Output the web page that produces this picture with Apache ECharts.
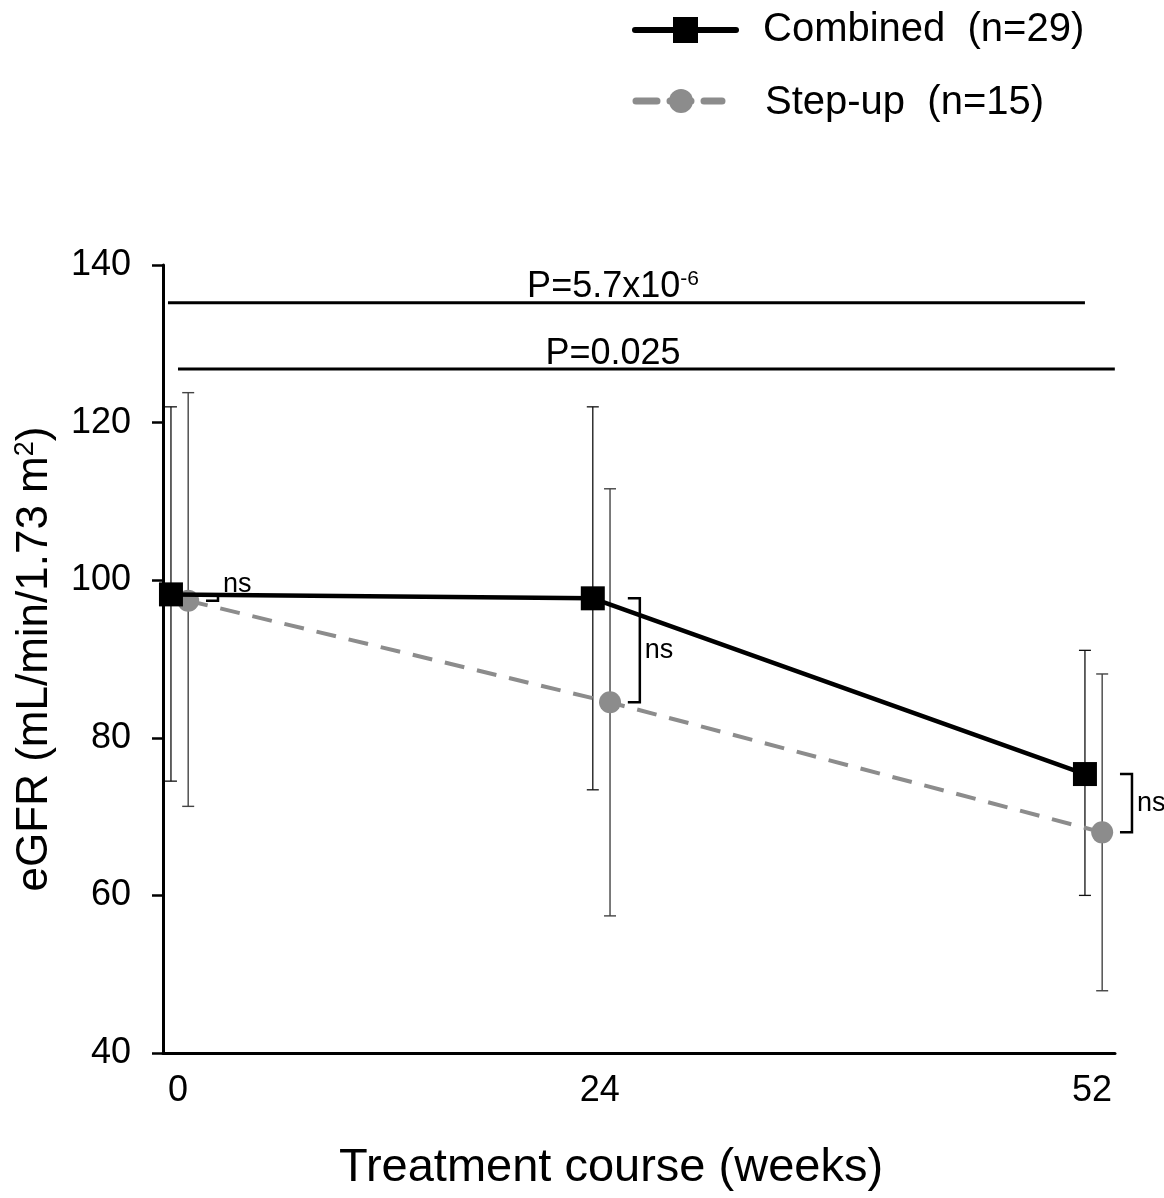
<!DOCTYPE html>
<html>
<head>
<meta charset="utf-8">
<script src="https://cdn.jsdelivr.net/npm/echarts@6/dist/echarts.min.js"></script>
<style>
  html, body { margin: 0; padding: 0; background: #fff; }
  #chart { width: 1164px; height: 1198px; }
</style>
</head>
<body>
<div id="chart"></div>
<script>
// values
var weeks = [0, 24, 52];
var combinedMean = [98.2, 97.7, 75.4];
var combinedLow = [74.5, 73.4, 60.0];
var combinedHigh = [122.0, 122.0, 91.1];
var stepUpMean = [97.4, 84.5, 68.0];
var stepUpLow = [71.3, 57.4, 47.9];
var stepUpHigh = [123.8, 111.6, 88.1];
var yTicks = [40, 60, 80, 100, 120, 140];
var xTicks = [0, 24, 52];

// significance bars (weeks, eGFR)
var pTexts = ['P=5.7x10{sup|-6}', 'P=0.025'];
var pFrom = [-0.57, 0];
var pTo = [51.6, 53.3];
var pLevel = [135.2, 126.8];
var pTextAt = 24.75;

var FONT = '"Liberation Sans", Arial, sans-serif';
var COMB_SHIFT = -0.4, STEP_SHIFT = 0.58;

var chart = echarts.init(document.getElementById('chart'));

function errorBars(shift, low, high, color, width, cap) {
  return {
    type: 'custom',
    z: 1,
    silent: true,
    encode: { x: 0, y: [1, 2] },
    data: weeks.map(function (w, i) { return [w, low[i], high[i]]; }),
    renderItem: function (params, api) {
      var x = api.value(0) + shift;
      var a = api.coord([x, api.value(1)]);
      var b = api.coord([x, api.value(2)]);
      var st = { stroke: color, lineWidth: width };
      return {
        type: 'group',
        children: [
          { type: 'line', shape: { x1: a[0], y1: a[1], x2: b[0], y2: b[1] }, style: st },
          { type: 'line', shape: { x1: a[0] - cap, y1: a[1], x2: a[0] + cap, y2: a[1] }, style: st },
          { type: 'line', shape: { x1: b[0] - cap, y1: b[1], x2: b[0] + cap, y2: b[1] }, style: st }
        ]
      };
    }
  };
}

var option = {
  animation: false,
  backgroundColor: '#fff',
  textStyle: { fontFamily: FONT },
  grid: { left: 163, right: 49, top: 265, bottom: 145 },
  xAxis: {
    type: 'value',
    min: -0.853,
    max: 53.31,
    name: 'Treatment course (weeks)',
    nameLocation: 'middle',
    nameGap: 92,
    nameTextStyle: { fontSize: 47, color: '#000', fontFamily: FONT, padding: [0, 56, 0, 0] },
    axisLine: { onZero: false, lineStyle: { color: '#000', width: 3 } },
    axisTick: { show: false },
    splitLine: { show: false },
    axisLabel: {
      customValues: xTicks,
      fontSize: 36,
      color: '#000',
      fontFamily: FONT,
      margin: 20
    }
  },
  yAxis: {
    type: 'value',
    min: 40,
    max: 140,
    interval: 20,
    name: 'eGFR (mL/min/1.73 m{sup|2})',
    nameLocation: 'middle',
    nameGap: 106,
    nameTextStyle: {
      fontSize: 44, color: '#000', fontFamily: FONT,
      rich: { sup: { fontSize: 27, color: '#000', fontFamily: FONT, padding: [0, 0, 18, 0] } }
    },
    axisLine: { onZero: false, lineStyle: { color: '#000', width: 3 } },
    axisTick: { inside: false, length: 11, lineStyle: { color: '#000', width: 2.5 } },
    splitLine: { show: false },
    axisLabel: { fontSize: 36, color: '#000', fontFamily: FONT, margin: 32 }
  },
  graphic: [
    { type: 'line', shape: { x1: 635, y1: 30, x2: 736, y2: 30 },
      style: { stroke: '#000', lineWidth: 6, lineCap: 'round' } },
    { type: 'rect', shape: { x: 673, y: 17, width: 25, height: 26 }, style: { fill: '#000' } },
    { type: 'text', style: { text: 'Combined  (n=29)', x: 763, y: 30, font: '40px ' + FONT,
      fill: '#000', verticalAlign: 'middle' } },
    { type: 'line', shape: { x1: 636, y1: 101, x2: 722, y2: 101 },
      style: { stroke: '#8c8c8c', lineWidth: 7, lineCap: 'round', lineDash: [21, 13] } },
    { type: 'circle', shape: { cx: 681, cy: 101, r: 12 }, style: { fill: '#8c8c8c' } },
    { type: 'text', style: { text: 'Step-up  (n=15)', x: 765, y: 103, font: '40px ' + FONT,
      fill: '#000', verticalAlign: 'middle' } }
  ],
  series: [
    errorBars(COMB_SHIFT, combinedLow, combinedHigh, '#111', 1.3, 6),
    errorBars(STEP_SHIFT, stepUpLow, stepUpHigh, '#444', 1.4, 6),
    {
      name: 'Step-up (n=15)',
      type: 'line',
      z: 3,
      data: weeks.map(function (w, i) { return [w + STEP_SHIFT, stepUpMean[i]]; }),
      symbol: 'circle',
      symbolSize: 22,
      itemStyle: { color: '#8c8c8c' },
      lineStyle: { color: '#8c8c8c', width: 4, type: [20, 13] }
    },
    {
      name: 'Combined (n=29)',
      type: 'line',
      z: 4,
      data: weeks.map(function (w, i) { return [w + COMB_SHIFT, combinedMean[i]]; }),
      symbol: 'rect',
      symbolSize: 24,
      itemStyle: { color: '#000' },
      lineStyle: { color: '#000', width: 4.5 }
    },
    {
      // ns brackets between group means
      type: 'custom',
      z: 5,
      silent: true,
      clip: false,
      encode: { x: 0, y: [1, 2] },
      data: weeks.map(function (w, i) { return [w, combinedMean[i], stepUpMean[i]]; }),
      renderItem: function (params, api) {
        var top = api.coord([api.value(0), api.value(1)]);
        var bot = api.coord([api.value(0), api.value(2)]);
        var xl = top[0] + 28, xr = top[0] + 40;
        var h = bot[1] - top[1];
        var ty = h < 30 ? top[1] - 10 : (top[1] + bot[1]) / 2;
        return {
          type: 'group',
          children: [
            { type: 'polyline', shape: { points: [[xl, top[1]], [xr, top[1]], [xr, bot[1]], [xl, bot[1]]] },
              style: { stroke: '#000', lineWidth: 2.5, fill: null } },
            { type: 'text', style: { text: 'ns', x: xr + 5, y: ty, font: '27px ' + FONT,
              fill: '#000', verticalAlign: 'middle', align: 'left' } }
          ]
        };
      }
    },
    {
      // P-value bars
      type: 'custom',
      z: 5,
      silent: true,
      clip: false,
      encode: { x: [0, 1], y: 2 },
      data: pFrom.map(function (f, i) { return [f, pTo[i], pLevel[i]]; }),
      renderItem: function (params, api) {
        var a = api.coord([api.value(0), api.value(2)]);
        var b = api.coord([api.value(1), api.value(2)]);
        var t = api.coord([pTextAt, api.value(2)]);
        return {
          type: 'group',
          children: [
            { type: 'line', shape: { x1: a[0], y1: a[1], x2: b[0], y2: b[1] },
              style: { stroke: '#000', lineWidth: 3 } },
            { type: 'text', style: {
              text: pTexts[params.dataIndex], x: t[0], y: a[1] + 3,
              font: '36px ' + FONT, fill: '#000', align: 'center', verticalAlign: 'bottom',
              rich: { sup: { fontSize: 21, fontFamily: FONT, fill: '#000', padding: [0, 0, 16, 0] } }
            } }
          ]
        };
      }
    }
  ]
};

chart.setOption(option);
</script>
</body>
</html>
